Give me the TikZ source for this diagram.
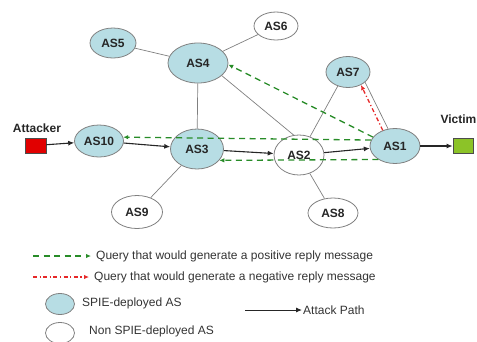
\documentclass[tikz,border=0pt]{standalone}
\usepackage{fontspec}
\setmainfont{Liberation Sans}
\usetikzlibrary{shapes.geometric,arrows.meta}
\definecolor{spiefill}{RGB}{183,221,228}
\definecolor{edgegray}{RGB}{128,128,128}
\definecolor{qgreen}{RGB}{40,140,40}
\definecolor{qred}{RGB}{230,40,40}
\definecolor{attred}{RGB}{225,0,0}
\definecolor{vicgreen}{RGB}{140,195,40}
\begin{document}
\begin{tikzpicture}[x=1pt,y=-1pt,
  asnode/.style={ellipse, draw=edgegray, line width=0.8pt, inner sep=0pt,
    font=\bfseries\fontsize{12}{12}\selectfont, text=black!85},
  spienode/.style={asnode, fill=spiefill},
  plainnode/.style={asnode, fill=white},
  link/.style={draw=edgegray, line width=0.7pt},
  attack/.style={draw=black!85, line width=1.1pt, -{Latex[length=6pt,width=5pt]}},
  posq/.style={draw=qgreen, line width=1.3pt, dash pattern=on 6pt off 4.5pt, -{Latex[length=5pt,width=4.5pt]}},
  negq/.style={draw=qred, line width=1.3pt, dash pattern=on 4pt off 2.5pt on 1.2pt off 2.5pt, -{Latex[length=5pt,width=4.5pt]}},
  lbl/.style={font=\bfseries\fontsize{12}{12}\selectfont, text=black!85, inner sep=0pt},
  legtext/.style={font=\fontsize{12}{12}\selectfont, text=black!80, inner sep=0pt, anchor=west},
  endbox/.style={draw=black!70, line width=0.6pt, minimum width=20pt, minimum height=15pt, inner sep=0pt}
]
\useasboundingbox (0,0) rectangle (477,341);

% nodes
\node[spienode, minimum width=46pt, minimum height=30pt] (AS5) at (113,43) {AS5};
\node[spienode, minimum width=60pt, minimum height=40pt] (AS4) at (198,63) {AS4};
\node[plainnode, minimum width=44pt, minimum height=28pt] (AS6) at (276,26) {AS6};
\node[spienode, minimum width=44pt, minimum height=31pt] (AS7) at (348,72) {AS7};
\node[spienode, minimum width=49pt, minimum height=32pt] (AS10) at (99,141) {AS10};
\node[spienode, minimum width=53pt, minimum height=40pt] (AS3) at (197,149) {AS3};
\node[plainnode, minimum width=50pt, minimum height=40pt] (AS2) at (299,155) {AS2};
\node[spienode, minimum width=50pt, minimum height=35pt] (AS1) at (395,146) {AS1};
\node[plainnode, minimum width=51pt, minimum height=33pt] (AS9) at (137,212) {AS9};
\node[plainnode, minimum width=50pt, minimum height=30pt] (AS8) at (333,213) {AS8};

\node[endbox, fill=attred, minimum width=21pt] (att) at (35.5,145.5) {};
\node[lbl] (attl) at (37,128) {Attacker};
\node[endbox, fill=vicgreen] (vic) at (463,146) {};
\node[lbl, anchor=east] (vicl) at (476.5,119) {Victim};

% plain links
\draw[link] (AS5) -- (AS4);
\draw[link] (AS4) -- (AS6);
\draw[link] (AS4) -- (AS3);
\draw[link] (AS4.-28) -- (AS2.105);
\draw[link] (AS2.59) -- (AS7.234);
\draw[link] (AS7.-31) -- (AS1.112);
\draw[link] (AS3) -- (AS9);
\draw[link] (AS2) -- (AS8);

% attack path
\draw[attack] (att) -- (AS10);
\draw[attack] (AS10) -- (AS3);
\draw[attack] (AS3) -- (AS2);
\draw[attack] (AS2) -- (AS1);
\draw[attack] (AS1) -- (vic);

% queries
\draw[posq] (AS1.158) -- (AS4.-3);
\draw[posq] (AS1.166) -- (AS10.9);
\draw[posq] (AS1.219) -- (AS3.-27);
\draw[negq] (AS1.128) -- (AS7.-45);

% legend
\coordinate (lg1a) at (33,256);
\coordinate (lg1b) at (91,256);
\draw[posq] (lg1a) -- (lg1b);
\node[legtext] (lt1) at (96,256) {Query that would generate a positive reply message};
\coordinate (lg2a) at (33,277);
\coordinate (lg2b) at (89,277);
\draw[negq] (lg2a) -- (lg2b);
\node[legtext] (lt2) at (94,277) {Query that would generate a negative reply message};
\node[spienode, minimum width=29pt, minimum height=21pt] (lgs) at (60,304) {};
\node[legtext] (lt3) at (82,303) {SPIE-deployed AS};
\node[plainnode, minimum width=29pt, minimum height=21pt] (lgn) at (60,333) {};
\node[legtext] (lt4) at (89,331) {Non SPIE-deployed AS};
\coordinate (lg3a) at (245,310);
\coordinate (lg3b) at (302,310);
\draw[attack, line width=0.9pt] (lg3a) -- (lg3b);
\node[legtext] (lt5) at (303,310) {Attack Path};
\end{tikzpicture}
\end{document}
